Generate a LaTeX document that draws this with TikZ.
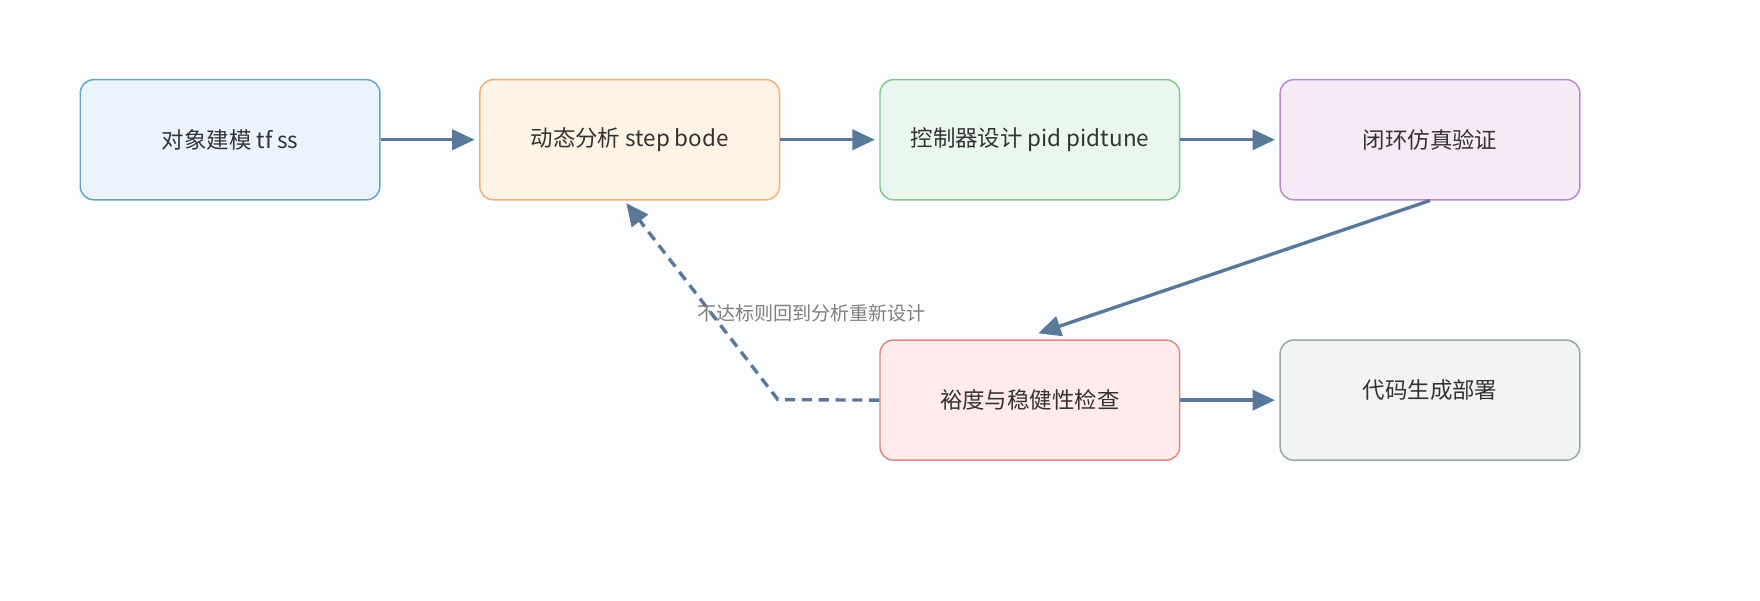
\documentclass[tikz,border=0pt]{standalone}
\usepackage{fontspec}
\setmainfont{Noto Sans CJK SC}
\usetikzlibrary{arrows.meta}
\definecolor{bg}{HTML}{FCFDFF}
\definecolor{arr}{HTML}{5A7899}
\begin{document}
\begin{tikzpicture}[x=1pt,y=-1pt,
  box/.style={draw,rounded corners=12pt,line width=1.3pt,minimum width=267pt,minimum height=107pt,font=\fontsize{20}{24}\selectfont,text=black!80},
  con/.style={draw=arr,line width=3pt,-{Triangle[length=20pt,width=18pt]}}]
\fill[bg] (0,0) rectangle (1568,535);
\useasboundingbox (0,0) rectangle (1568,535);
\node[box,draw=blue!40!cyan!50!gray!80,fill={rgb,255:red,235;green,243;blue,252}] (a) at (205,124.5) {对象建模 tf ss};
\node[box,draw={rgb,255:red,240;green,176;blue,112},fill={rgb,255:red,255;green,243;blue,230}] (b) at (561,124.5) {动态分析 step bode};
\node[box,draw={rgb,255:red,128;green,200;blue,144},fill={rgb,255:red,234;green,247;blue,238}] (c) at (917.5,124.5) {控制器设计 pid pidtune};
\node[box,draw={rgb,255:red,184;green,136;blue,204},fill={rgb,255:red,247;green,234;blue,247}] (d) at (1274,124.5) {闭环仿真验证};
\node[box,draw={rgb,255:red,216;green,136;blue,128},fill={rgb,255:red,255;green,235;blue,235}] (e) at (917.5,356.5) {裕度与稳健性检查};
\node[box,draw={rgb,255:red,152;green,168;blue,164},fill={rgb,255:red,242;green,244;blue,242},text depth=20pt] (f) at (1274,356.5) {代码生成部署};
\coordinate (k) at (693,356);
\coordinate (bt) at (558,181);
\coordinate (et) at (925,297);
\draw[con] (a.east) -- ([xshift=-4pt]b.west);
\draw[con] (b.east) -- ([xshift=-4pt]c.west);
\draw[con] (c.east) -- ([xshift=-4pt]d.west);
\draw[con] (d.south) -- (et);
\draw[con] (e.east) -- ([xshift=-4pt]f.west);
\draw[con,dash pattern=on 9pt off 6pt] (e.west) -- (k) -- (bt);
\node[font=\fontsize{17}{20}\selectfont,text=black!50] (l) at (723,279) {不达标则回到分析重新设计};
\end{tikzpicture}
\end{document}
